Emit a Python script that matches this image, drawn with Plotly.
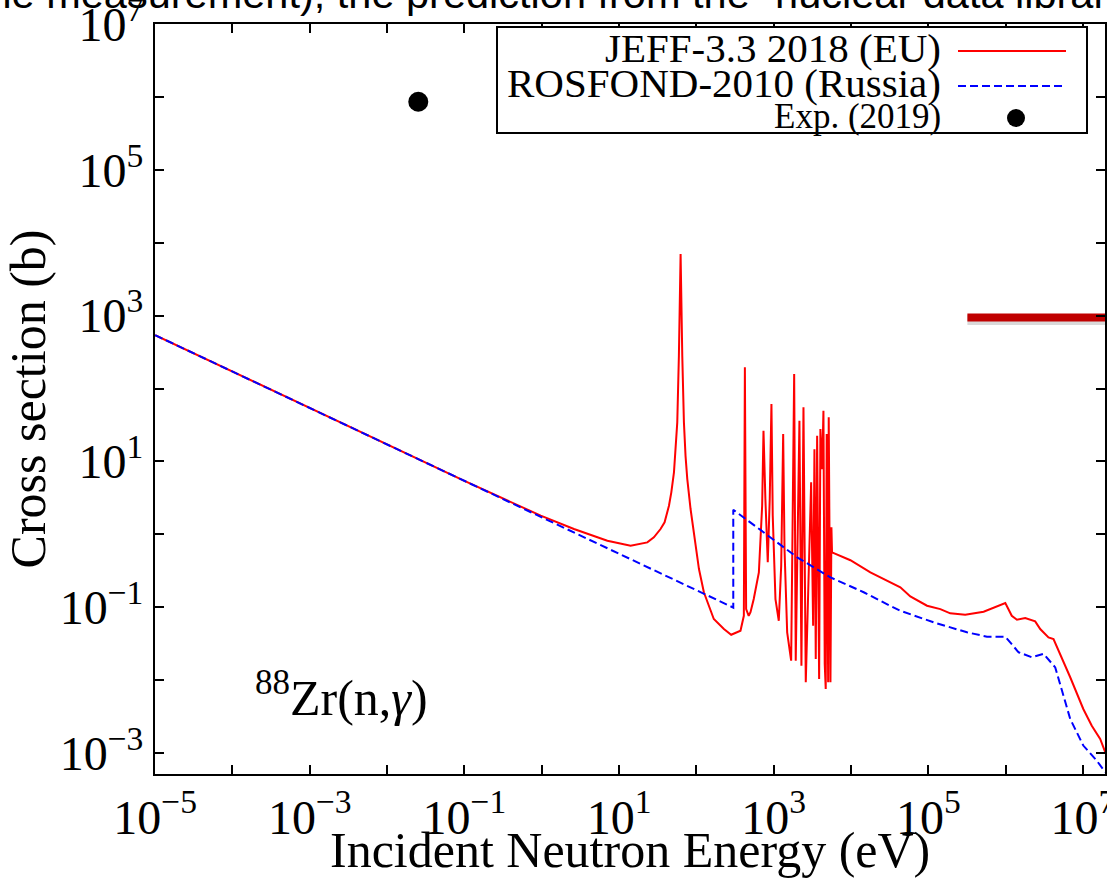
import plotly.graph_objects as go

# ---------------- data ----------------
jeff_energy_eV = [1e-5, 1e-3, 0.1, 0.97, 2.61, 7.06, 14.1, 23.2, 28.2, 34.4, 38.8, 44.2, 47.4, 51.3, 53.8,
                  56.6, 59.4, 62.5, 65.7, 69.0, 72.4, 76.3, 84.1, 92.9, 108, 125, 168, 227, 282, 372, 411,
                  424, 440, 475, 501, 552, 643, 709, 738, 781, 838, 889, 935, 972, 1054, 1164, 1250, 1326,
                  1380, 1494, 1682, 1840, 1928, 2152, 2285, 2427, 2600, 3050, 3236, 3365, 3500, 3647, 3870,
                  4020, 4236, 4400, 4570, 4710, 4850, 5060, 5150, 5420, 5580, 5680, 9820, 17800, 32300,
                  43450, 58500, 96200, 1.43e5, 1.92e5, 3.0e5, 5.19e5, 9.9e5, 1.2e6, 1.4e6, 1.79e6, 2.41e6,
                  2.8e6, 3.58e6, 4.16e6, 6.84e6, 1.01e7, 1.30e7, 1.67e7, 1.94e7]
jeff_xs_b = [540, 54, 5.4, 1.80, 1.18, 0.815, 0.695, 0.774, 0.906, 1.18, 1.46, 2.46, 3.76, 7.07, 13.3,
             34.3, 281, 6980, 281, 34.3, 11.9, 5.71, 2.22, 1.06, 0.333, 0.160, 0.0687, 0.050, 0.0418,
             0.0474, 0.076, 195, 0.094, 0.076, 0.085, 0.129, 0.30, 2.46, 26.3, 3.04, 0.412, 3.04, 61.1,
             1.80, 0.129, 0.065, 0.370, 23.7, 0.627, 0.0451, 0.0184, 158, 0.0184, 36.1, 0.0157, 55.1,
             0.0093, 5.15, 0.0556, 14.7, 0.0194, 22.4, 0.0103, 27.7, 7.83, 49.4, 0.0166, 0.00754, 23.7,
             0.0093, 40.2, 0.0093, 1.245, 0.565, 0.44, 0.30, 0.219, 0.187, 0.14, 0.1045, 0.094, 0.0822,
             0.0787, 0.0865, 0.1138, 0.0762, 0.0671, 0.0708, 0.0638, 0.0501, 0.0385, 0.0365, 0.0109,
             0.0040, 0.00236, 0.00155, 0.00102]

rosfond_energy_eV = [1e-5, 1e-3, 0.1, 10, 300, 300, 745, 2014, 5420, 14590, 32280, 43450, 1.17e5,
                     3.16e5, 5.73e5, 9.9e5, 1.47e6, 2.19e6, 3.09e6, 4.38e6, 6.84e6, 1.01e7, 1.51e7, 1.94e7]
rosfond_xs_b = [540, 54, 5.4, 0.54, 0.0986, 2.17, 1.06, 0.482, 0.256, 0.160, 0.104, 0.0893, 0.0618,
                0.0451, 0.0393, 0.0393, 0.0240, 0.0205, 0.0228, 0.0149, 0.00292, 0.00126, 0.00078,
                0.000542]

exp_energy_eV = [0.0253]
exp_xs_b = [861000]

# slide overlay bar (red rule at right)
bar_energy_eV = [3.2e5, 2.0e7]
bar_xs_b = [944, 944]

legend_labels = ["JEFF-3.3 2018 (EU)", "ROSFOND-2010 (Russia)", "Exp. (2019)"]
x_major_exponents = [-5, -3, -1, 1, 3, 5, 7]
x_minor_exponents = [-4, -2, 0, 2, 4, 6]
y_major_exponents = [-3, -1, 1, 3, 5, 7]
y_minor_exponents = [-2, 0, 2, 4, 6]


def exp_label(k):
    return "10<sup>" + str(k).replace("-", "\u2212") + "</sup>"


SERIF = "Liberation Serif"

fig = go.Figure()
fig.add_trace(go.Scatter(x=jeff_energy_eV, y=jeff_xs_b, mode="lines",
                         line=dict(color="#ff0000", width=2), name=legend_labels[0]))
fig.add_trace(go.Scatter(x=rosfond_energy_eV, y=rosfond_xs_b, mode="lines",
                         line=dict(color="#0000ff", width=2, dash="8px,4px"), name=legend_labels[1]))
fig.add_trace(go.Scatter(x=exp_energy_eV, y=exp_xs_b, mode="markers",
                         marker=dict(color="black", size=20), name=legend_labels[2]))
fig.add_trace(go.Scatter(x=bar_energy_eV, y=[v * 0.92 for v in bar_xs_b], mode="lines",
                         line=dict(color="rgba(0,0,0,0.15)", width=10), hoverinfo="skip"))
fig.add_trace(go.Scatter(x=bar_energy_eV, y=bar_xs_b, mode="lines",
                         line=dict(color="#c00000", width=8), hoverinfo="skip"))

axis_common = dict(type="log", showgrid=False, zeroline=False, showline=True, linecolor="black",
                   linewidth=2, mirror="ticks", ticks="inside", ticklen=9, tickwidth=1.5,
                   tickcolor="black", ticklabeloverflow="allow", automargin=False,
                   tickfont=dict(family=SERIF, size=48, color="black"))

fig.update_xaxes(range=[-5.002, 7.285], tickmode="array",
                 tickvals=[10.0 ** k for k in x_major_exponents],
                 ticktext=[exp_label(k) for k in x_major_exponents],
                 minor=dict(tickmode="array", tickvals=[10.0 ** k for k in x_minor_exponents],
                            ticks="inside", ticklen=9, tickwidth=1.5, tickcolor="black", showgrid=False),
                 **axis_common)
fig.update_yaxes(range=[-3.29, 7.002], tickmode="array",
                 tickvals=[10.0 ** k for k in y_major_exponents],
                 ticktext=[exp_label(k) for k in y_major_exponents],
                 minor=dict(tickmode="array", tickvals=[10.0 ** k for k in y_minor_exponents],
                            ticks="inside", ticklen=9, tickwidth=1.5, tickcolor="black", showgrid=False),
                 title=dict(text="Cross section (b)", font=dict(family=SERIF, size=50, color="black"),
                            standoff=4),
                 **axis_common)

# plot-area pixel geometry helpers for the hand-drawn legend / labels
L, R, T, B = 155, 1105, 24, 774


def px(xp):
    return (xp - L) / (R - L)


def py(yp):
    return (B - yp) / (B - T)


shapes = [
    dict(type="rect", xref="paper", yref="paper", x0=px(497), x1=px(1087), y0=py(133), y1=py(27),
         line=dict(color="black", width=2), fillcolor="white", layer="above"),
    dict(type="line", xref="paper", yref="paper", x0=px(958), x1=px(1066), y0=py(51), y1=py(51),
         line=dict(color="#ff0000", width=2), layer="above"),
    dict(type="line", xref="paper", yref="paper", x0=px(958), x1=px(1066), y0=py(86), y1=py(86),
         line=dict(color="#0000ff", width=2, dash="8px,4px"), layer="above"),
    dict(type="circle", xref="paper", yref="paper", xsizemode="pixel", ysizemode="pixel",
         xanchor=px(1016), yanchor=py(118), x0=-9, x1=9, y0=-9, y1=9,
         fillcolor="black", line=dict(color="black", width=0), layer="above"),
]

annotations = [
    dict(text=legend_labels[0], xref="paper", yref="paper", x=px(943), y=py(48), xanchor="right",
         yanchor="middle", showarrow=False, font=dict(family=SERIF, size=41, color="black")),
    dict(text=legend_labels[1], xref="paper", yref="paper", x=px(943), y=py(83), xanchor="right",
         yanchor="middle", showarrow=False, font=dict(family=SERIF, size=41, color="black")),
    dict(text=legend_labels[2], xref="paper", yref="paper", x=px(943), y=py(116), xanchor="right",
         yanchor="middle", showarrow=False, font=dict(family=SERIF, size=35, color="black")),
    dict(text="<sup>88</sup>Zr(n,<i>\u03b3</i>)", xref="paper", yref="paper", x=px(253), y=py(728),
         xanchor="left", yanchor="bottom", showarrow=False,
         font=dict(family=SERIF, size=50, color="black")),
    dict(text="Incident Neutron Energy (eV)", xref="paper", yref="paper", x=0.5, y=py(850),
         xanchor="center", yanchor="middle", showarrow=False,
         font=dict(family=SERIF, size=50, color="black")),
    dict(text="the measurement), the prediction from the \u201cnuclear data library",
         xref="paper", yref="paper", x=px(-25), y=py(19.5), xanchor="left", yanchor="bottom",
         showarrow=False, font=dict(family="Liberation Sans", size=41.5, color="black")),
]

fig.update_layout(width=1107, height=879, margin=dict(l=L, r=1107 - R, t=T, b=879 - B, autoexpand=False),
                  plot_bgcolor="white", paper_bgcolor="white", showlegend=False,
                  shapes=shapes, annotations=annotations,
                  font=dict(family=SERIF, color="black"))

fig.write_html("out.html")
